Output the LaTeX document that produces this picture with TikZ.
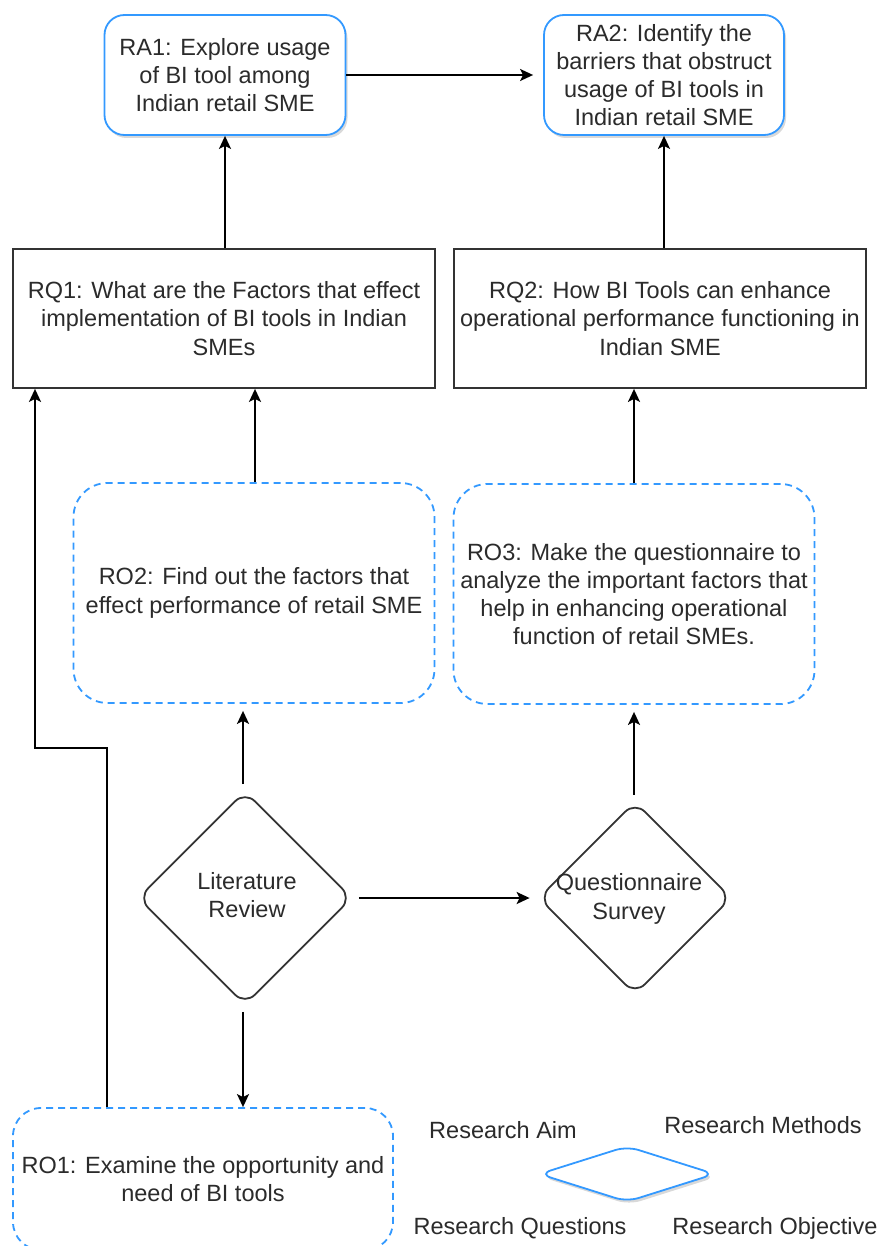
\documentclass[tikz,border=0pt]{standalone}
\usepackage{fontspec}
\setmainfont{Liberation Sans}
\usetikzlibrary{shapes.geometric,arrows.meta,shadows,calc}
\definecolor{boxblue}{HTML}{3399FF}
\definecolor{ink}{HTML}{2B2B2B}
\definecolor{linegray}{HTML}{333333}
\begin{document}
\begin{tikzpicture}[x=1pt,y=-1pt,
  txt/.style={text=ink,font=\fontsize{23.5}{28.2}\selectfont,align=center,inner sep=0pt},
  aimbox/.style={txt,draw=boxblue,line width=1.8pt,rounded corners=20pt,fill=white,
    drop shadow={opacity=0.3,shadow xshift=2pt,shadow yshift=-3pt}},
  qbox/.style={txt,draw=linegray,line width=1.8pt,fill=white},
  objbox/.style={txt,draw=boxblue,line width=1.8pt,dash pattern=on 7pt off 5pt,rounded corners=34pt},
  method/.style={txt,shape=diamond,draw=linegray,line width=1.8pt,rounded corners=14pt,inner sep=0pt},
  arr/.style={draw=black,line width=2pt,-{Stealth[length=13pt,width=12pt,inset=3pt]}},
  legend/.style={txt}]
\useasboundingbox (0,0) rectangle (882,1246);

% research aims
\node[aimbox,minimum width=241pt,minimum height=120pt] (RA1) at (225,75)
  {RA1: Explore usage\\of BI tool among\\Indian retail SME};
\node[aimbox,minimum width=240pt,minimum height=120pt] (RA2) at (664,75)
  {RA2: Identify the\\barriers that obstruct\\usage of BI tools in\\Indian retail SME};

% research questions
\node[qbox,minimum width=422pt,minimum height=139pt] (RQ1) at (224,318.5)
  {RQ1: What are the Factors that effect\\implementation of BI tools in Indian\\SMEs};
\node[qbox,minimum width=412pt,minimum height=139pt] (RQ2) at (660,318.5)
  {RQ2: How BI Tools can enhance\\operational performance functioning in\\Indian SME};

% research objectives
\node[objbox,minimum width=361pt,minimum height=220pt] (RO2) at (254,593)
  {RO2: Find out the factors that\\effect performance of retail SME};
\node[objbox,minimum width=361pt,minimum height=220pt] (RO3) at (634,594)
  {RO3: Make the questionnaire to\\analyze the important factors that\\help in enhancing operational\\function of retail SMEs.};
\node[objbox,rounded corners=28pt,minimum width=380pt,minimum height=142pt] (RO1) at (203,1179)
  {RO1: Examine the opportunity and\\need of BI tools};

% research methods
\node[method,minimum width=214pt,minimum height=214pt] (LR) at (245,898) {};
\node[txt] (LRt) at (247,895) {Literature\\Review};
\node[method,minimum width=193pt,minimum height=193pt] (QS) at (635,898) {};
\node[txt] (QSt) at (629,899) {Questionnaire\\Survey};

% connectors
\draw[arr] (RA1.east) -- ([xshift=-10pt]RA2.west);
\draw[arr] (RQ1.north -| RA1) -- (RA1.south);
\draw[arr] (RQ2.north -| RA2) -- (RA2.south);
\draw[arr] ($(RO2.north)+(1,0)$) -- ($(RQ1.south -| RO2.north)+(1,0)$);
\draw[arr] (RO3.north) -- (RQ2.south -| RO3.north);
\draw[arr,shorten <=6pt,shorten >=7pt] ($(LR.north)+(-2,0)$) -- ($(RO2.south -| LR.north)+(-2,0)$);
\draw[arr,shorten <=6pt,shorten >=8pt] (LR.east) -- (QS.west);
\draw[arr,shorten <=6pt,shorten >=7pt] ($(QS.north)+(-1,0)$) -- ($(RO3.south -| QS.north)+(-1,0)$);
\draw[arr,shorten <=6pt] ($(LR.south)+(-2,0)$) -- ($(RO1.north -| LR.south)+(-2,0)$);
\coordinate (tap) at ($(RO1.north west)+(95,0)$);
\coordinate (bendL) at (35,748);
\draw[arr] (tap) |- (bendL) -- (bendL |- RQ1.south);

% legend
\node[draw=boxblue,line width=1.8pt,shape=diamond,rounded corners=12pt,fill=white,
  minimum width=176pt,minimum height=56pt,inner sep=0pt,
  drop shadow={opacity=0.3,shadow xshift=2pt,shadow yshift=-3pt}] (key) at (627,1174) {};
\node[legend] (kaim) at (503,1130) {Research Aim};
\node[legend] (kmeth) at (763,1125) {Research Methods};
\node[legend] (kq) at (520,1228) {Research Questions};
\node[legend] (kobj) at (775,1228) {Research Objective};
\end{tikzpicture}
\end{document}
